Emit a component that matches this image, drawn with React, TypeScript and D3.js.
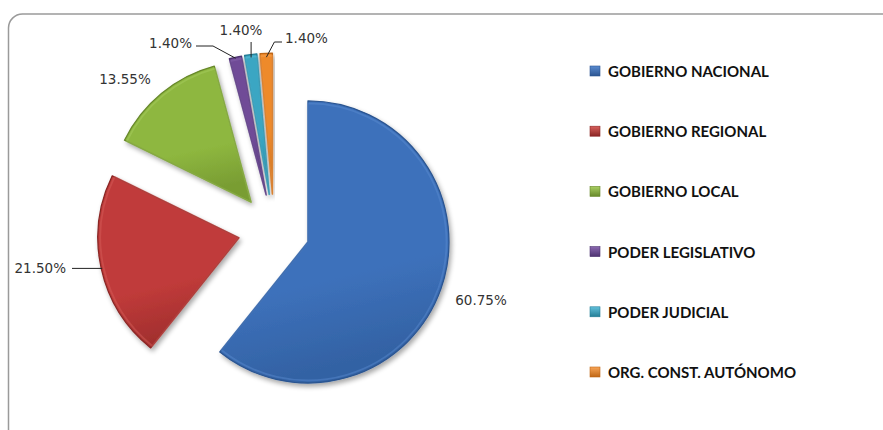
import React from "react";
import * as d3 from "d3";

const categories = [
  "GOBIERNO NACIONAL",
  "GOBIERNO REGIONAL",
  "GOBIERNO LOCAL",
  "PODER LEGISLATIVO",
  "PODER JUDICIAL",
  "ORG. CONST. AUTÓNOMO",
];
const values = [60.75, 21.5, 13.55, 1.4, 1.4, 1.4];
const valueLabels = ["60.75%", "21.50%", "13.55%", "1.40%", "1.40%", "1.40%"];

const baseColors = ["#3d71bb", "#c03b3a", "#8eb73f", "#6f4b97", "#3aa6c3", "#ee8a2c"];
const lightColors = ["#5a8bd0", "#d8605c", "#a9cf62", "#8a68b0", "#62c0db", "#f8a557"];
const darkColors = ["#2b5591", "#8a2524", "#67882a", "#4d3270", "#247e96", "#bf6614"];

// label layout (pixel placement of text)
const labelPos: { x: number; y: number; anchor: string }[] = [
  { x: 481, y: 300, anchor: "middle" },
  { x: 66, y: 268, anchor: "end" },
  { x: 125, y: 79, anchor: "middle" },
  { x: 192, y: 43, anchor: "end" },
  { x: 241, y: 30, anchor: "middle" },
  { x: 285, y: 38, anchor: "start" },
];

const W = 883;
const H = 430;
const CX = 274;
const CY = 230;
const R = 141;
const EXPLODE = 36;

export default function App() {
  const pie = d3
    .pie<number>()
    .sort(null)
    .value((d) => d)
    .startAngle(0)
    .endAngle(2 * Math.PI);
  const arcs = pie(values);
  const arc = d3.arc<d3.PieArcDatum<number>>().innerRadius(0).outerRadius(R);
  const arcInner = d3.arc<d3.PieArcDatum<number>>().innerRadius(0).outerRadius(R - 2.5);

  const offsets = arcs.map((a) => {
    const m = (a.startAngle + a.endAngle) / 2;
    return { dx: EXPLODE * Math.sin(m), dy: -EXPLODE * Math.cos(m), m };
  });

  const arcPoint = (i: number, rr: number) => {
    const o = offsets[i];
    return [CX + o.dx + rr * Math.sin(o.m), CY + o.dy - rr * Math.cos(o.m)];
  };

  const leaders: string[] = [];
  {
    const p = arcPoint(1, R - 1);
    leaders[1] = d3.line()([
      [labelPos[1].x + 6, p[1]],
      [p[0], p[1]],
    ]) as string;
    const p3 = arcPoint(3, R - 1);
    leaders[3] = d3.line()([
      p3 as [number, number],
      [labelPos[3].x + 21, labelPos[3].y + 3],
      [labelPos[3].x + 4, labelPos[3].y + 3],
    ]) as string;
    const p4 = arcPoint(4, R - 3);
    leaders[4] = d3.line()([
      p4 as [number, number],
      [p4[0], labelPos[4].y + 12],
    ]) as string;
    const p5 = arcPoint(5, R - 4);
    leaders[5] = d3.line()([
      p5 as [number, number],
      [p5[0] + 8, labelPos[5].y + 4],
      [labelPos[5].x - 3, labelPos[5].y + 4],
    ]) as string;
  }

  const legendX = 590;
  const legendY0 = 71;
  const legendStep = 60.2;

  return (
    <svg
      width={W}
      height={H}
      style={{ position: "absolute", left: 0, top: 0, background: "#fff" }}
      xmlns="http://www.w3.org/2000/svg"
    >
      <defs>
        {baseColors.map((c, i) => (
          <linearGradient key={i} id={`g${i}`} x1="0" y1="0" x2="0.2" y2="1">
            <stop offset="0%" stopColor={c} />
            <stop offset="70%" stopColor={c} />
            <stop offset="100%" stopColor={d3.interpolateRgb(c, darkColors[i])(0.55)} />
          </linearGradient>
        ))}
        {baseColors.map((c, i) => (
          <linearGradient key={`l${i}`} id={`lg${i}`} x1="0" y1="0" x2="0" y2="1">
            <stop offset="0%" stopColor={lightColors[i]} />
            <stop offset="100%" stopColor={darkColors[i]} />
          </linearGradient>
        ))}
        <filter id="sh" x="-20%" y="-20%" width="140%" height="140%">
          <feGaussianBlur in="SourceAlpha" stdDeviation="2.5" />
          <feOffset dx="1.5" dy="2.5" result="b" />
          <feComponentTransfer>
            <feFuncA type="linear" slope="0.35" />
          </feComponentTransfer>
          <feMerge>
            <feMergeNode />
            <feMergeNode in="SourceGraphic" />
          </feMerge>
        </filter>
      </defs>
      <rect x={8.5} y={14} width={W + 40} height={H + 40} rx={14} ry={14} fill="#fff" stroke="#9a9a9a" strokeWidth={1.5} />

      <g>
        {arcs.map((a, i) => (
          <g key={i} transform={`translate(${CX + offsets[i].dx},${CY + offsets[i].dy})`}>
            <path d={arc(a) as string} fill={`url(#g${i})`} stroke={darkColors[i]} strokeWidth={1.3} strokeLinejoin="round" filter="url(#sh)" />
            <path d={arcInner(a) as string} fill="none" stroke={lightColors[i]} strokeOpacity={0.45} strokeWidth={1.8} strokeLinejoin="round" />
          </g>
        ))}
      </g>

      {leaders.map((d, i) => (d ? <path key={i} d={d} fill="none" stroke="#222" strokeWidth={1} /> : null))}

      {valueLabels.map((t, i) => (
        <text
          key={i}
          x={labelPos[i].x}
          y={labelPos[i].y}
          textAnchor={labelPos[i].anchor as any}
          dominantBaseline="central"
          fontFamily="'DejaVu Sans', sans-serif"
          fontSize={13.5}
          fill="#333"
        >
          {t}
        </text>
      ))}

      {categories.map((c, i) => {
        const y = legendY0 + i * legendStep;
        return (
          <g key={c}>
            <rect x={legendX} y={y - 5} width={10} height={10} fill={`url(#lg${i})`} stroke={darkColors[i]} strokeWidth={0.6} />
            <text
              x={legendX + 18}
              y={y}
              dominantBaseline="central"
              fontFamily="Lato, 'Open Sans', sans-serif"
              fontWeight="bold"
              fontSize={15}
              fill="#111"
            >
              {c}
            </text>
          </g>
        );
      })}
    </svg>
  );
}
